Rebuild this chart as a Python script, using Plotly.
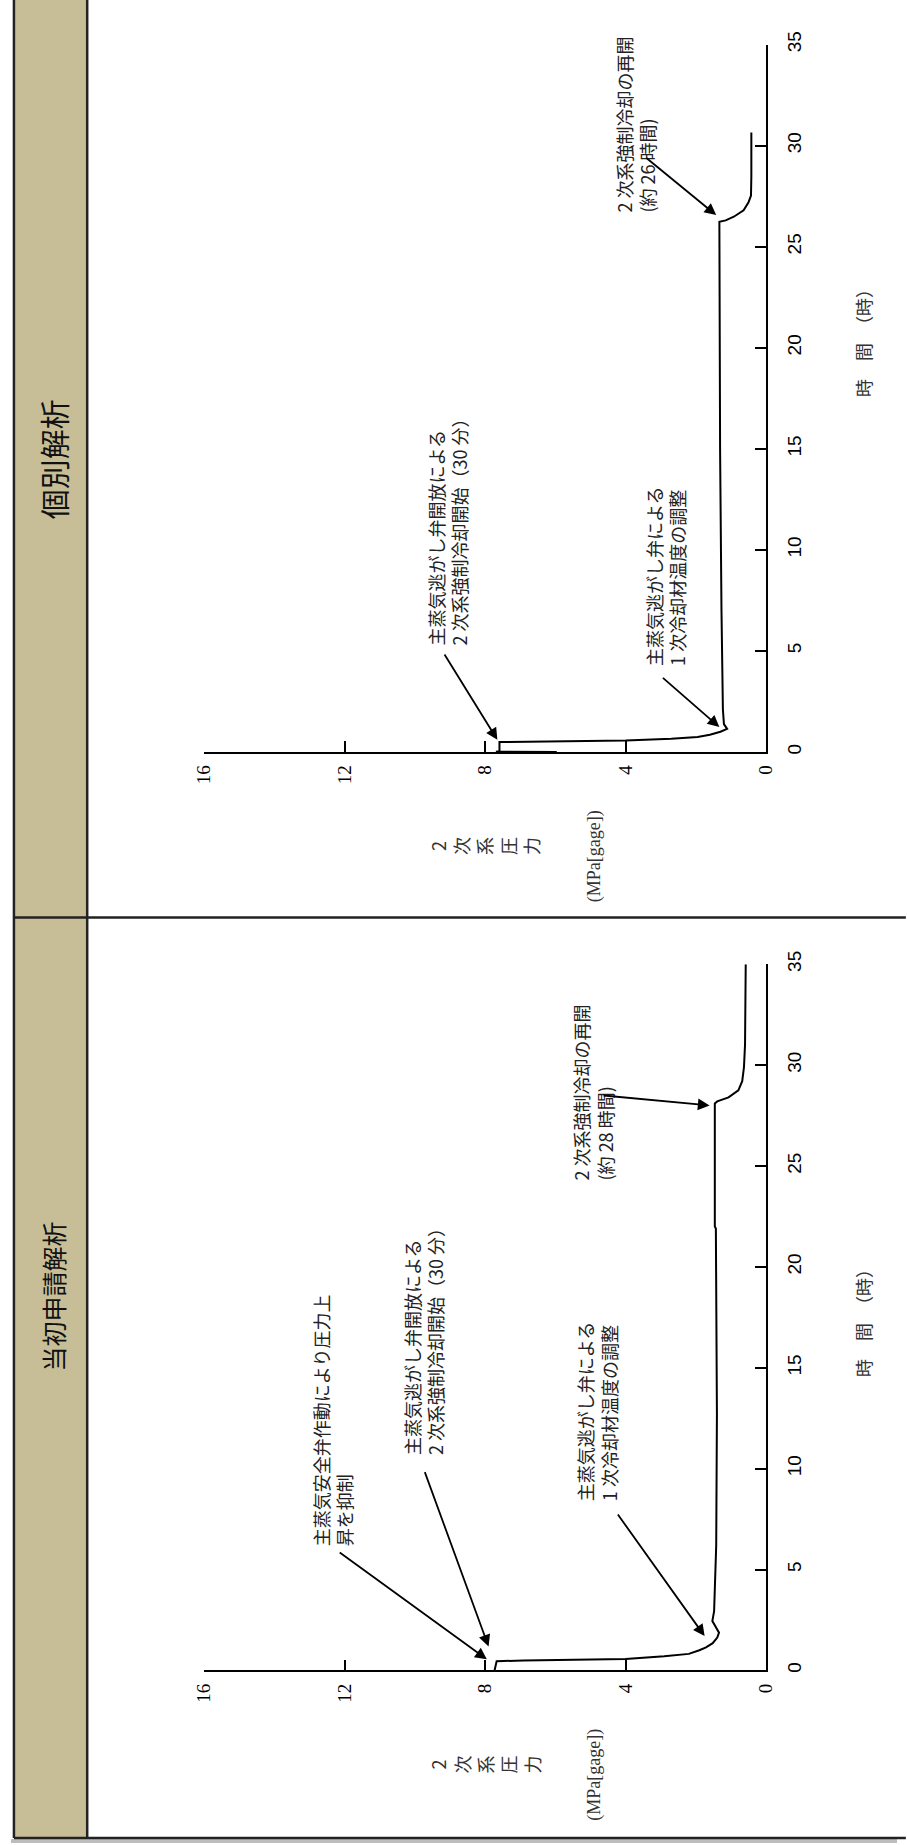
import plotly.graph_objects as go

W, H = 907, 1845

# ---------------- data ----------------
# 個別解析 (top panel)
t_kobetsu = [0, 0.005, 0.03, 0.49, 0.53, 0.57, 0.65, 0.74, 0.85, 1.0, 1.14, 1.25, 1.38, 2.1, 7, 15,
             26.23, 26.3, 26.48, 26.8, 27.2, 27.53, 28.5, 30.65]
p_kobetsu = [5.96, 7.69, 7.59, 7.59, 5.4, 4.0, 2.7, 1.95, 1.6, 1.3, 1.11, 1.16, 1.2, 1.23, 1.27, 1.31,
             1.33, 1.15, 0.92, 0.64, 0.5, 0.43, 0.42, 0.42]

# 当初申請解析 (bottom panel)
t_tousho = [0, 0.46, 0.49, 0.57, 0.7, 0.82, 1.0, 1.14, 1.35, 1.63, 1.87, 2.2, 2.45, 2.94, 3.9, 6.2,
            12.7, 21.9, 22.0, 28.1, 28.2, 28.4, 28.75, 29.2, 29.9, 31.0, 35.0]
p_tousho = [7.73, 7.67, 6.9, 4.0, 2.9, 2.2, 1.9, 1.71, 1.52, 1.39, 1.34, 1.46, 1.53, 1.48, 1.46, 1.42,
            1.40, 1.43, 1.46, 1.46, 1.39, 1.07, 0.79, 0.68, 0.63, 0.60, 0.58]

pressure_ticks = [0, 4, 8, 12, 16]
time_ticks = [0, 5, 10, 15, 20, 25, 30, 35]

# annotations: text, (pressure, time) of text lower-left corner
top_texts = ["主蒸気逃がし弁開放による<br>2 次系強制冷却開始（30 分）",
             "主蒸気逃がし弁による<br>1 次冷却材温度の調整",
             "2 次系強制冷却の再開<br>(約 26 時間)"]
top_text_pos = [(9.82, 5.15), (3.64, 4.17), (4.48, 26.6)]
top_arrows = [((9.18, 4.9), (7.65, 0.6)),
              ((2.98, 3.73), (1.33, 1.23)),
              ((3.45, 29.45), (1.42, 26.56))]

bot_texts = ["主蒸気安全弁作動により圧力上<br>昇を抑制",
             "主蒸気逃がし弁開放による<br>2 次系強制冷却開始（30 分）",
             "主蒸気逃がし弁による<br>1 次冷却材温度の調整",
             "2 次系強制冷却の再開<br>(約 28 時間)"]
bot_text_pos = [(13.1, 6.08), (10.51, 10.6), (5.56, 8.28), (5.70, 24.2)]
bot_arrows = [((12.18, 5.9), (7.95, 0.55)),
              ((9.73, 9.9), (7.9, 1.18)),
              ((4.25, 7.8), (1.75, 1.7)),
              ((4.67, 28.5), (1.61, 28.0))]

panel_titles = ["個別解析", "当初申請解析"]
time_title = "時　間　（時）"
press_title = "2<br>次<br>系<br>圧<br>力"
press_unit = "(MPa[gage])"

# ---------------- figure ----------------
def px(x):
    return x / W

def py(y):
    return 1 - y / H

fig = go.Figure()
fig.add_trace(go.Scatter(x=p_kobetsu, y=t_kobetsu, mode="lines",
                         line=dict(color="black", width=2), xaxis="x", yaxis="y",
                         showlegend=False, hoverinfo="skip"))
fig.add_trace(go.Scatter(x=p_tousho, y=t_tousho, mode="lines",
                         line=dict(color="black", width=2), xaxis="x2", yaxis="y2",
                         showlegend=False, hoverinfo="skip"))

xdom = [px(197.6), px(773)]
ydom_top = [py(745), py(31.8)]
ydom_bot = [py(1671), py(959)]

axis_common = dict(showgrid=False, zeroline=False, showline=True, linecolor="black",
                   linewidth=1.5, ticks="inside", ticklen=11, tickwidth=1.5, tickcolor="black")
xfont = dict(family="Liberation Serif", size=19, color="black")
yfont = dict(family="Liberation Sans", size=19, color="black")

layout_axes = {}
for i, (xa, ya, ydom) in enumerate([("xaxis", "yaxis", ydom_top), ("xaxis2", "yaxis2", ydom_bot)]):
    ysuffix = "y" if i == 0 else "y2"
    xsuffix = "x" if i == 0 else "x2"
    layout_axes[xa] = dict(axis_common, domain=xdom, range=[16, 0], tickvals=pressure_ticks,
                           tickangle=-90, tickfont=xfont, anchor=ysuffix, side="bottom",
                           ticklabelstandoff=4)
    layout_axes[ya] = dict(axis_common, domain=ydom, range=[0, 35], tickvals=time_ticks,
                           tickangle=-90, tickfont=yfont, anchor=xsuffix, side="right",
                           ticklabelstandoff=10)

annotations = []
afont = dict(family="Noto Sans CJK JP", size=18, color="#222")

for (txt, (pp, tt)) in zip(top_texts, top_text_pos):
    annotations.append(dict(text=txt, x=pp, y=tt, xref="x", yref="y", showarrow=False,
                            textangle=-90, xanchor="left", yanchor="bottom", align="left",
                            font=afont))
for ((tp, tt), (hp, ht)) in top_arrows:
    annotations.append(dict(text="", x=hp, y=ht, ax=tp, ay=tt, xref="x", yref="y",
                            axref="x", ayref="y", showarrow=True, arrowhead=2, arrowsize=1.3,
                            arrowwidth=1.8, arrowcolor="black"))
for (txt, (pp, tt)) in zip(bot_texts, bot_text_pos):
    annotations.append(dict(text=txt, x=pp, y=tt, xref="x2", yref="y2", showarrow=False,
                            textangle=-90, xanchor="left", yanchor="bottom", align="left",
                            font=afont))
for ((tp, tt), (hp, ht)) in bot_arrows:
    annotations.append(dict(text="", x=hp, y=ht, ax=tp, ay=tt, xref="x2", yref="y2",
                            axref="x2", ayref="y2", showarrow=True, arrowhead=2, arrowsize=1.3,
                            arrowwidth=1.8, arrowcolor="black"))

def paper_text(text, xc, yc, font):
    return dict(text=text, x=px(xc), y=py(yc), xref="paper", yref="paper",
                xanchor="center", yanchor="middle", showarrow=False, textangle=-90,
                font=font)

# panel titles
annotations.append(paper_text(panel_titles[0], 43, 450,
                              dict(family="Noto Sans CJK JP", size=30, color="#111")))
annotations.append(paper_text(panel_titles[1], 43, 1294,
                              dict(family="Noto Sans CJK JP", size=25, color="#111")))

# axis titles
tfont = dict(family="Noto Sans CJK JP", size=18, color="#333")
sfont = dict(family="Liberation Serif", size=18, color="#333")
for (ycen_time, ycen_p) in [(328, 840), (1316, 1766)]:
    annotations.append(paper_text(time_title, 873, ycen_time, tfont))
    annotations.append(paper_text(press_title, 485, ycen_p, tfont))
    annotations.append(paper_text(press_unit, 597, ycen_p + 10, sfont))

# table shapes
shapes = [
    dict(type="rect", xref="paper", yref="paper", x0=px(3), x1=px(78), y0=py(1840), y1=1.01,
         fillcolor="#C7BE98", line=dict(width=0), layer="below"),
    dict(type="line", xref="paper", yref="paper", x0=px(3), x1=px(3), y0=py(1840), y1=1.01,
         line=dict(color="#222", width=2.5)),
    dict(type="line", xref="paper", yref="paper", x0=px(78), x1=px(78), y0=py(1840), y1=1.01,
         line=dict(color="#222", width=2.5)),
    dict(type="line", xref="paper", yref="paper", x0=px(3), x1=1.01, y0=py(912), y1=py(912),
         line=dict(color="#222", width=2.5)),
    dict(type="rect", xref="paper", yref="paper", x0=0, x1=1, y0=0, y1=py(1841),
         fillcolor="#BDBDBD", line=dict(width=0), layer="below"),
    dict(type="line", xref="paper", yref="paper", x0=px(3), x1=1.01, y0=py(1840), y1=py(1840),
         line=dict(color="#222", width=2.5)),
]

fig.update_layout(width=W, height=H, margin=dict(l=0, r=0, t=0, b=0),
                  paper_bgcolor="white", plot_bgcolor="rgba(0,0,0,0)",
                  showlegend=False, annotations=annotations, shapes=shapes, **layout_axes)

fig.write_html("out.html", config={"displayModeBar": False},
               post_script="document.body.style.margin='0';")
